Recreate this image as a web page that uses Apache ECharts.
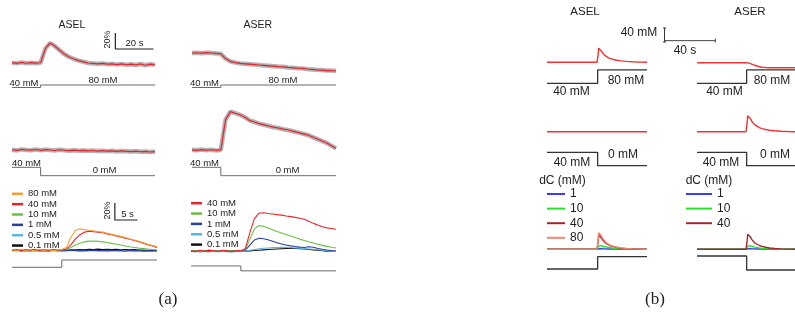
<!DOCTYPE html>
<html>
<head>
<meta charset="utf-8">
<script src="https://cdn.jsdelivr.net/npm/echarts@6/dist/echarts.min.js"></script>
<style>html,body{margin:0;padding:0;background:#fff}#chart{width:795px;height:320px}</style>
</head>
<body>
<div id="chart"></div>
<script>
// ---------- (a) measured traces, % dF/F ----------
const tSlow = [0,2.5,5,7.5,10,12.5,15,17.5,20,22.5,25,27.5,30,32.5,35,37.5,40,42.5,45,47.5,50,52.5,55,57.5,60,62.5,65,67.5,70,72.5,75];
const aselUp   = [0.5,-0.5,0.8,-0.3,0.4,-0.2,0.3,18,25,21,16,11,7.5,5,3,1.5,0,-0.5,-1,-0.5,-1.5,-1,-2,-1.2,-2.2,-1.5,-2.5,-1.2,-2.8,-1.5,-2.2];
const aserUp   = [0,0.3,-0.2,0.4,0,-0.5,-1,-7,-10.5,-12,-13,-13.5,-14,-14.5,-15,-15.5,-16,-16.5,-17,-17.3,-18,-18.5,-19,-19.3,-20,-20.5,-21,-21.3,-22,-22,-22.5];
const aselDown = [0.3,-0.5,0.8,0.1,-0.2,0.6,-0.4,0.5,0,-0.6,0.3,-0.3,-0.8,-0.2,-0.9,-0.5,-1,-0.6,-1.3,-0.9,-1.4,-1,-1.8,-1.2,-1.6,-2,-1.5,-2.2,-1.8,-2.5,-2];
const aserDown = [0.2,-0.4,0.5,-0.2,0.3,-0.5,0.1,38,48,46,44,41,37,35,33,31.5,30,28.5,27.5,26,25,23.5,22,20.5,19,16.5,14,11.5,9,5.5,2];

const tFast = [0,1,2,3,4,5,6,7,8,9,10,11,12,13,14,15,16,17,18,19,20,21,22,23,24,25,26,27,28,29,30,31,32];
const aselDose80 = [0.5,-0.8,1,-0.5,0.3,-1,0.8,-0.4,0.6,-0.7,0.2,0.5,3,15,23,25,24,23.2,22.5,21.8,21,19.8,18.5,17.2,16,14.6,13,11.8,10.2,8.6,6.8,5.2,3.8];
const aselDose40 = [-0.3,0.6,-0.8,0.4,-0.2,0.7,-0.6,0.3,-0.9,0.5,-0.2,0.4,1,6,13,18,21,22,21.5,21,20.2,19,18,16.6,15.4,14,12.6,11.2,9.6,8,6.2,4.6,3];
const aselDose10 = [0.2,-0.5,0.4,-0.3,0.6,-0.6,0.1,0.5,-0.4,0.3,-0.2,0.2,0.6,3,6,8,9.6,10.4,10.6,10.2,9.6,8.8,7.8,6.8,5.8,4.8,3.8,3,2.2,1.6,1,0.5,0.1];
const aselDose1  = [-0.6,-0.2,-0.9,-0.4,-1,-0.3,-0.8,-0.5,-1.1,-0.2,-0.7,-0.4,-0.9,-0.3,-0.6,-1,-0.4,-0.8,-0.2,-0.7,-0.5,-1,-0.3,-0.8,-0.6,-1.1,-0.4,-0.9,-0.5,-1.2,-0.7,-1,-0.8];
const aselDose05 = [-1,-0.6,-1.3,-0.8,-0.5,-1.2,-0.9,-1.4,-0.7,-1,-0.6,-1.3,-0.9,-0.5,-1.1,-0.8,-1.4,-0.6,-1,-0.7,-1.2,-0.9,-1.5,-0.8,-1.1,-1.6,-0.9,-1.3,-1,-2,-1.2,-1.5,-1.8];
const aselDose01 = [-0.4,-0.9,-0.2,-0.7,-0.3,-0.8,-0.5,-0.1,-0.6,-0.3,-0.9,-0.2,-0.4,0.3,0.1,0.5,0.2,0.8,0.4,1,0.6,0.9,0.5,0.7,0.3,0.6,0.2,0.4,0,-0.2,-0.5,-0.3,-0.6];
const aserDose40 = [0.4,-0.5,0.8,-0.2,1,0.3,-0.4,0.9,0.2,-0.6,0.5,0.1,3,22,38,44.5,45,44.2,43.6,42.8,42.2,41.2,40.4,39.6,38.6,37.4,35,32.5,30.5,28.6,27.2,26.4,25.6];
const aserDose10 = [-0.3,0.5,-0.6,0.2,0.7,-0.4,0.3,-0.5,0.6,0.1,-0.3,0.2,2,14,26,30,29,27,25,23,21.2,19.4,17.6,15.8,14,12.4,10.8,9.4,8,6.6,5.4,4.4,3.5];
const aserDose1  = [-0.5,0.2,-0.8,0.4,-0.3,0.6,-0.7,0.1,-0.4,0.5,-0.2,0.3,1,7,13,15,14.5,13.2,11.5,9.8,8.2,7,6,5.2,4.6,4.2,5,4.4,3,2,1.2,0.6,0.3];
const aserDose05 = [-0.8,-0.3,-1,-0.5,-0.2,-0.9,-0.6,-0.1,-0.7,-0.4,-0.9,-0.5,-0.2,0.8,1.8,2.6,3.2,3.6,4,4.2,4.4,4.3,4,3.6,3.2,2.8,2.4,2,1.4,0.8,0.3,-0.2,-0.5];
const aserDose01 = [-0.2,-0.7,0.1,-0.5,-0.9,-0.3,-0.6,0,-0.4,-0.8,-0.1,-0.5,-0.3,0.2,0.5,0.9,1.3,1.7,2.1,2.4,2.7,2.9,3,2.9,2.6,2.3,1.8,1.3,0.8,0.3,-0.1,-0.3,-0.6];

// stimulus protocols
const stimTSlow = [0,15,15,75];
const stimUp    = [40,40,80,80];   // mM
const stimDown  = [40,40,0,0];     // mM
const stimTFast = [0,11,11,32];
const stepOn    = [0,0,1,1];
const stepOff   = [1,1,0,0];

// ---------- (b) model traces, a.u. ----------
const tModel = [0,38.5,39,39.4,39.8,40.3,41,42,43,44,45.5,47,49,51,54,57,61,66,71,77];
const mAselUp   = [0,0,0,8,14,15.6,13.8,11,9,7.4,5.8,4.7,3.6,2.8,2,1.4,0.9,0.5,0.2,0];
const mAserUp   = [0,0,0,0,-0.1,-0.2,-0.5,-0.9,-1.4,-1.9,-2.6,-3.3,-4,-4.5,-4.8,-5,-5,-5,-5,-5];
const mAselDown = [0,0,0,0,0,0,0,0,0,0,0,0,0,0,0,0,0,0,0,0];
const mAserDown = [0,0,0,9,16,17,15.6,12.8,10.5,8.7,6.8,5.4,4,3.1,2.2,1.5,0.9,0.5,0.2,0];
const mAsel80 = [0,0,0,9.5,16.5,18,16.2,13,10.5,8.6,6.7,5.3,4,3.1,2.1,1.4,0.8,0.4,0.15,0];
const mAsel40 = [0,0,0,8,14,15.5,14,11.2,9,7.4,5.8,4.6,3.5,2.7,1.8,1.2,0.7,0.35,0.1,0];
const mAsel10 = [0,0,0,2.5,3.8,4,3.8,3.4,3,2.7,2.3,1.9,1.5,1.2,0.8,0.5,0.3,0.15,0.05,0];
const mAsel1  = [0,0,0,0.3,0.55,0.6,0.58,0.54,0.5,0.45,0.4,0.34,0.28,0.22,0.15,0.1,0.06,0.03,0,0];
const mAser40 = [0,0,0,8.5,15,16.5,15,12.2,9.9,8.1,6.3,5,3.8,2.9,2,1.3,0.8,0.4,0.15,0];
const mAser10 = [0,0,0,2.4,3.7,4,3.8,3.4,3,2.6,2.2,1.8,1.4,1.1,0.7,0.45,0.25,0.12,0.04,0];
const mAser1  = [0,0,0,0.3,0.5,0.6,0.58,0.54,0.5,0.45,0.4,0.34,0.28,0.22,0.15,0.1,0.06,0.03,0,0];
const stimTModel = [0,39,39,77];

const legendA_L = ['80 mM','40 mM','10 mM','1 mM','0.5 mM','0.1 mM'];
const legendA_R = ['40 mM','10 mM','1 mM','0.5 mM','0.1 mM'];
const legendB_L = ['1','10','40','80'];
const legendB_R = ['1','10','40'];

// ---------- layout helpers ----------
const FONT = '"Liberation Sans", Arial, sans-serif';
const SERIF = '"Liberation Serif", "Times New Roman", serif';
const grids = [], xAxes = [], yAxes = [], series = [], texts = [];

// a hidden coordinate system: value 0 sits at pixel row `base`, `pxPer` pixels per unit
function panel(left, width, tMax, base, pxPer, win) {
  const i = grids.length;
  const half = win || 50;
  grids.push({ left, width, top: base - half, height: 2 * half });
  xAxes.push({ type: 'value', gridIndex: i, min: 0, max: tMax, show: false });
  yAxes.push({ type: 'value', gridIndex: i, min: -half / pxPer, max: half / pxPer, show: false });
  return i;
}
function trace(g, t, v, color, width, z, name) {
  series.push({
    type: 'line', name, xAxisIndex: g, yAxisIndex: g,
    data: v.map((y, i) => [t[i], y]),
    symbol: 'none', clip: false, silent: true, z: z || 2,
    lineStyle: { color, width }, itemStyle: { color }
  });
}
function label(x, y, text, size, rot, font) {
  texts.push({
    type: 'text', x, y, rotation: rot || 0, silent: true,
    style: { text, font: size + 'px ' + (font || FONT), fill: '#222', align: 'center', verticalAlign: 'middle' }
  });
}

const RED = '#e8202a', SEM = 'rgba(105,105,105,0.5)', STIM_A = '#6a6a6a', STIM_B = '#333';
const C80 = '#f5a030', C40 = '#e8262a', C10 = '#6cbf45', C1 = '#2b3f9e', C05 = '#5ab4e5', C01 = '#111';
const M1 = '#3b3bf0', M10 = '#22e622', M40 = '#a3272a', M80 = '#f4826c';

// ---------- panel (a) ----------
const gA1 = panel(12, 143, 75, 63, 0.8);
const gA2 = panel(192, 144, 75, 53, 0.8);
const gA1s = panel(12, 143, 75, 90, 0.0625);
const gA2s = panel(192, 144, 75, 90, 0.0625);
const gA3 = panel(12, 143, 75, 150, 0.8);
const gA4 = panel(192, 144, 75, 150, 0.8);
const gA3s = panel(12, 143, 75, 175.7, 0.21);
const gA4s = panel(192, 144, 75, 175.7, 0.21);
const gA5 = panel(12, 145, 32, 250, 0.85);
const gA6 = panel(191, 145, 32, 251, 0.85);
const gA5s = panel(12, 145, 32, 267.3, 7.3);
const gA6s = panel(191, 145, 32, 271.7, 5);

[[gA1, aselUp], [gA2, aserUp], [gA3, aselDown], [gA4, aserDown]].forEach(([g, v]) => {
  trace(g, tSlow, v, SEM, 4.5, 1);
  trace(g, tSlow, v, RED, 1.2, 2);
});
trace(gA1s, stimTSlow, stimUp, STIM_A, 1);
trace(gA2s, stimTSlow, stimUp, STIM_A, 1);
trace(gA3s, stimTSlow, stimDown, STIM_A, 1);
trace(gA4s, stimTSlow, stimDown, STIM_A, 1);

trace(gA5, tFast, aselDose01, C01, 1.1, 2, '0.1 mM');
trace(gA5, tFast, aselDose05, C05, 1.1, 2, '0.5 mM');
trace(gA5, tFast, aselDose1, C1, 1.1, 2, '1 mM');
trace(gA5, tFast, aselDose10, C10, 1.1, 2, '10 mM');
trace(gA5, tFast, aselDose40, C40, 1.1, 2, '40 mM');
trace(gA5, tFast, aselDose80, C80, 1.1, 2, '80 mM');
trace(gA6, tFast, aserDose01, C01, 1.1, 2, '0.1 mM');
trace(gA6, tFast, aserDose05, C05, 1.1, 2, '0.5 mM');
trace(gA6, tFast, aserDose1, C1, 1.1, 2, '1 mM');
trace(gA6, tFast, aserDose10, C10, 1.1, 2, '10 mM');
trace(gA6, tFast, aserDose40, C40, 1.1, 2, '40 mM');
trace(gA5s, stimTFast, stepOn, STIM_A, 1);
trace(gA6s, stimTFast, stepOff, STIM_A, 1);

// scale bars drawn in the trace units (20 %, 20 s and 20 %, 5 s)
trace(gA1, [54.2, 54.2, 74.2], [37.5, 17.5, 17.5], '#222', 1.2);
trace(gA5, [22.7, 22.7, 27.7], [55.3, 35.3, 35.3], '#222', 1.2);

label(72, 25.5, 'ASEL', 10.5);
label(257.7, 25.5, 'ASER', 10.5);
label(107.7, 39.5, '20%', 9, Math.PI / 2);
label(134.5, 43.5, '20 s', 9.5);
label(24, 83, '40 mM', 9.5);
label(103, 80, '80 mM', 9.5);
label(204.5, 83, '40 mM', 9.5);
label(283, 80, '80 mM', 9.5);
label(26.5, 163, '40 mM', 9.5);
label(104.5, 170, '0 mM', 9.5);
label(204.5, 163, '40 mM', 9.5);
label(287.5, 170, '0 mM', 9.5);
label(108, 210.5, '20%', 9, Math.PI / 2);
label(127.5, 214.5, '5 s', 9.5);
label(168, 300, '(a)', 17, 0, SERIF);

// ---------- panel (b) ----------
const gB1 = panel(547, 100, 77, 62.3, 1);
const gB2 = panel(697, 100, 77, 62.7, 1);
const gB1s = panel(547, 100, 77, 96.6, 0.333);
const gB2s = panel(697, 100, 77, 96.6, 0.333);
const gB3 = panel(547, 100, 77, 131.7, 1);
const gB4 = panel(697, 100, 77, 131.7, 1);
const gB3s = panel(547, 100, 77, 165.7, 0.335);
const gB4s = panel(697, 100, 77, 165.7, 0.335);
const gB5 = panel(547, 100, 77, 249.3, 1);
const gB6 = panel(697, 100, 77, 249.3, 1);
const gB5s = panel(547, 100, 77, 269, 12.3);
const gB6s = panel(697, 100, 77, 270, 14);
// wider frame with the same s / mM scale, for the 40 mM / 40 s bar
const gBbar = panel(547, 200, 154, 96.6, 0.333, 80);

trace(gB1, tModel, mAselUp, '#f03434', 1.4);
trace(gB2, tModel, mAserUp, '#f03434', 1.4);
trace(gB3, tModel, mAselDown, '#f03434', 1.4);
trace(gB4, tModel, mAserDown, '#f03434', 1.4);
trace(gB1s, stimTModel, stimUp, STIM_B, 1.3);
trace(gB2s, stimTModel, stimUp, STIM_B, 1.3);
trace(gB3s, stimTModel, stimDown, STIM_B, 1.3);
trace(gB4s, stimTModel, stimDown, STIM_B, 1.3);

trace(gB5, tModel, mAsel1, M1, 1.4, 2, '1');
trace(gB5, tModel, mAsel10, M10, 1.4, 2, '10');
trace(gB5, tModel, mAsel40, M40, 1.4, 2, '40');
trace(gB5, tModel, mAsel80, M80, 1.4, 2, '80');
trace(gB6, tModel, mAser1, M1, 1.4, 2, '1');
trace(gB6, tModel, mAser10, M10, 1.4, 2, '10');
trace(gB6, tModel, mAser40, M40, 1.4, 2, '40');
trace(gB5s, stimTModel, stepOn, STIM_B, 1.3);
trace(gB6s, stimTModel, stepOff, STIM_B, 1.3);

trace(gBbar, [90.5, 90.5], [164, 206], '#333', 1);
trace(gBbar, [89.3, 91.7], [206, 206], '#333', 1);
trace(gBbar, [89.3, 91.7], [164, 164], '#333', 1);
trace(gBbar, [90.5, 129.6], [168, 168], '#444', 1);
trace(gBbar, [129.6, 129.6], [162, 174], '#444', 1);

label(585, 11.5, 'ASEL', 11.5);
label(750, 11.5, 'ASER', 11.5);
label(639, 33, '40 mM', 12);
label(685, 51, '40 s', 12);
label(626, 80.5, '80 mM', 12);
label(571.5, 92, '40 mM', 12);
label(772, 80.5, '80 mM', 12);
label(724.5, 92, '40 mM', 12);
label(572, 162.5, '40 mM', 12);
label(623, 155, '0 mM', 12);
label(721, 162.5, '40 mM', 12);
label(775, 155, '0 mM', 12);
label(562.5, 181, 'dC (mM)', 12);
label(709, 181, 'dC (mM)', 12);
label(655, 300, '(b)', 17, 0, SERIF);

function legend(left, top, names, iconW, iconH, size, lh, gap) {
  return {
    orient: 'vertical', left, top, data: names, icon: 'rect',
    itemWidth: iconW, itemHeight: iconH, itemGap: gap, padding: 0,
    selectedMode: false,
    textStyle: { fontSize: size, lineHeight: lh, fontFamily: FONT, color: '#222', padding: 0 }
  };
}

const chart = echarts.init(document.getElementById('chart'));
chart.setOption({
  animation: false,
  backgroundColor: '#fff',
  grid: grids,
  xAxis: xAxes,
  yAxis: yAxes,
  legend: [
    legend(12, 188.8, legendA_L, 11, 2.5, 9.5, 9, 0.35),
    legend(191, 198.2, legendA_R, 11, 2.5, 9.5, 9, 0.35),
    legend(547, 188, legendB_L, 18, 2, 12, 12, 2.6),
    legend(686, 188, legendB_R, 26, 2, 12, 12, 2.6)
  ],
  graphic: texts,
  series
});
</script>
</body>
</html>
